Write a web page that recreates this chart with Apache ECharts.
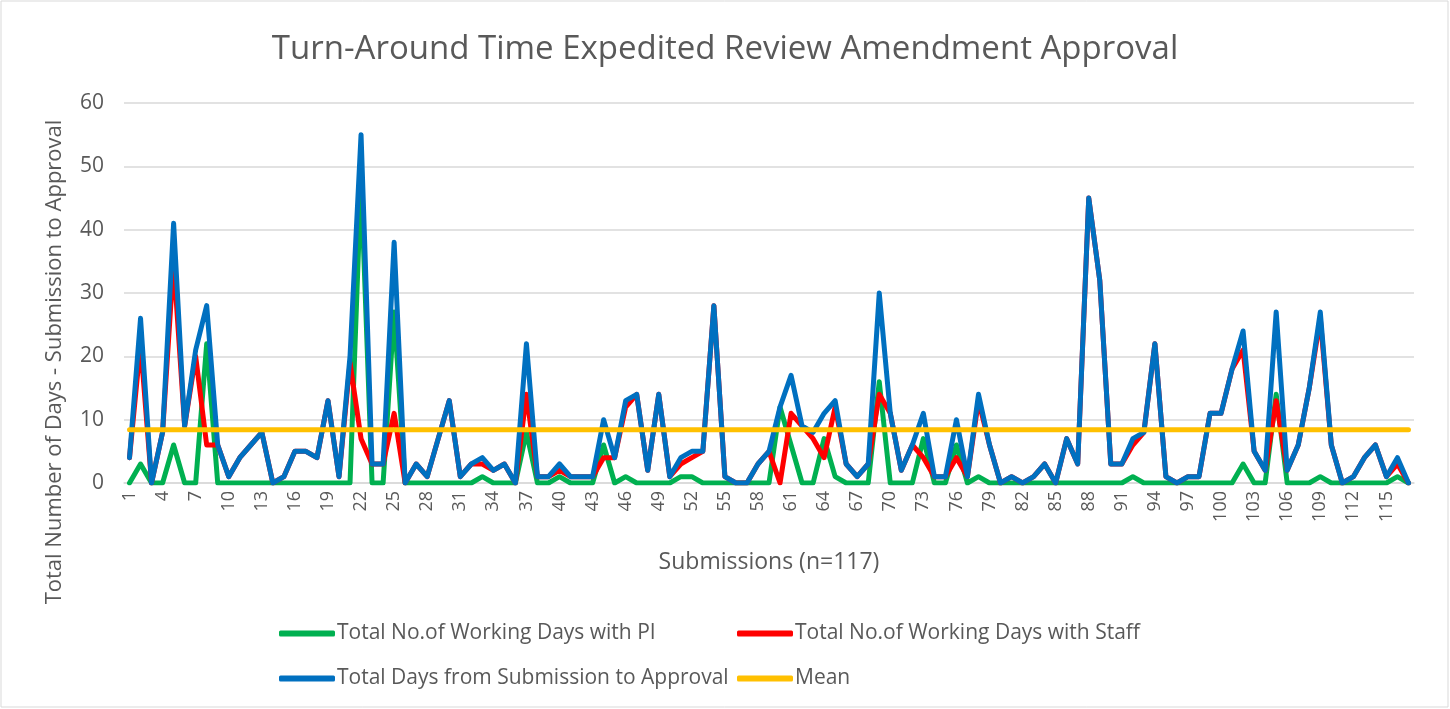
<!DOCTYPE html>
<html>
<head>
<meta charset="utf-8">
<title>Turn-Around Time</title>
<script src="https://cdn.jsdelivr.net/npm/echarts@6/dist/echarts.min.js"></script>
<style>
  html, body { margin: 0; padding: 0; background: #fff; }
  #main { width: 1450px; height: 709px; }
</style>
</head>
<body>
<div id="main"></div>
<script>
// data, submissions 1..117
var submissions = [];
for (var i = 1; i <= 117; i++) submissions.push(String(i));

var daysWithPI = [
  0, 3, 0, 0, 6, 0, 0, 22, 0, 0,
  0, 0, 0, 0, 0, 0, 0, 0, 0, 0,
  0, 48, 0, 0, 27, 0, 0, 0, 0, 0,
  0, 0, 1, 0, 0, 0, 8, 0, 0, 1,
  0, 0, 0, 6, 0, 1, 0, 0, 0, 0,
  1, 1, 0, 0, 0, 0, 0, 0, 0, 12,
  6, 0, 0, 7, 1, 0, 0, 0, 16, 0,
  0, 0, 7, 0, 0, 6, 0, 1, 0, 0,
  0, 0, 0, 0, 0, 0, 0, 0, 0, 0,
  0, 1, 0, 0, 0, 0, 0, 0, 0, 0,
  0, 3, 0, 0, 14, 0, 0, 0, 1, 0,
  0, 0, 0, 0, 0, 1, 0
];

var daysWithStaff = [
  4, 22, 0, 8, 35, 9, 20, 6, 6, 1,
  4, 6, 8, 0, 1, 5, 5, 4, 13, 1,
  19, 7, 3, 3, 11, 0, 3, 1, 7, 13,
  1, 3, 3, 2, 3, 0, 14, 1, 1, 2,
  1, 1, 1, 4, 4, 12, 14, 2, 14, 1,
  3, 4, 5, 28, 1, 0, 0, 3, 5, 0,
  11, 9, 7, 4, 12, 3, 1, 3, 14, 11,
  2, 6, 4, 1, 1, 4, 1, 13, 6, 0,
  1, 0, 1, 3, 0, 7, 3, 45, 32, 3,
  3, 6, 8, 22, 1, 0, 1, 1, 11, 11,
  18, 21, 5, 2, 13, 2, 6, 15, 26, 6,
  0, 1, 4, 6, 1, 3, 0
];

var totalDays = [
  4, 26, 0, 8, 41, 9, 21, 28, 6, 1,
  4, 6, 8, 0, 1, 5, 5, 4, 13, 1,
  20, 55, 3, 3, 38, 0, 3, 1, 7, 13,
  1, 3, 4, 2, 3, 0, 22, 1, 1, 3,
  1, 1, 1, 10, 4, 13, 14, 2, 14, 1,
  4, 5, 5, 28, 1, 0, 0, 3, 5, 12,
  17, 9, 8, 11, 13, 3, 1, 3, 30, 11,
  2, 6, 11, 1, 1, 10, 1, 14, 6, 0,
  1, 0, 1, 3, 0, 7, 3, 45, 32, 3,
  3, 7, 8, 22, 1, 0, 1, 1, 11, 11,
  18, 24, 5, 2, 27, 2, 6, 15, 27, 6,
  0, 1, 4, 6, 1, 4, 0
];

var meanValue = 8.4;
var meanLine = submissions.map(function() { return meanValue; });

var seriesNames = [
  'Total No.of Working Days with PI',
  'Total No.of Working Days with Staff',
  'Total Days from Submission to Approval',
  'Mean'
];
var seriesColors = ['#00B050', '#FF0000', '#0070C0', '#FFC000'];
var seriesData = [daysWithPI, daysWithStaff, totalDays, meanLine];

var textColor = '#595959';
var fontFamily = '"Open Sans", "Noto Sans", sans-serif';

var chart = echarts.init(document.getElementById('main'));

// one legend per item so the 2x2 layout lines up like the original
var legendPos = [
  { left: 274, top: 618 },
  { left: 732, top: 618 },
  { left: 274, top: 663 },
  { left: 732, top: 663 }
];
var legends = seriesNames.map(function(name, i) {
  return {
    left: legendPos[i].left,
    top: legendPos[i].top,
    data: [name],
    icon: 'roundRect',
    itemWidth: 56,
    itemHeight: 6,
    itemGap: 0,
    selectedMode: false,
    textStyle: { color: textColor, fontSize: 21, fontFamily: fontFamily, padding: [0, 0, 0, -3] }
  };
});

var series = seriesNames.map(function(name, i) {
  return {
    name: name,
    type: 'line',
    data: seriesData[i],
    symbol: 'none',
    color: seriesColors[i],
    lineStyle: { width: 5, color: seriesColors[i], cap: 'round', join: 'round' },
    emphasis: { disabled: true },
    animation: false
  };
});

var option = {
  backgroundColor: '#fff',
  textStyle: { fontFamily: fontFamily },
  title: {
    text: 'Turn-Around Time Expedited Review Amendment Approval',
    left: 'center',
    top: 28,
    textStyle: { color: textColor, fontSize: 33, fontWeight: 'normal', fontFamily: fontFamily }
  },
  legend: legends,
  grid: { left: 124, right: 36, top: 103, bottom: 226 },
  xAxis: {
    type: 'category',
    data: submissions,
    boundaryGap: true,
    name: 'Submissions (n=117)',
    nameLocation: 'middle',
    nameGap: 68,
    nameTextStyle: { color: textColor, fontSize: 23, fontFamily: fontFamily },
    axisLine: { lineStyle: { color: '#d9d9d9', width: 1.5 } },
    axisTick: { show: false },
    axisLabel: { interval: 2, rotate: 90, color: textColor, fontSize: 18, margin: 8, fontFamily: fontFamily }
  },
  yAxis: {
    type: 'value',
    min: 0,
    max: 60,
    interval: 10,
    axisLine: { show: false },
    axisTick: { show: false },
    splitLine: { lineStyle: { color: '#d9d9d9', width: 1.5 } },
    axisLabel: { color: textColor, fontSize: 21, margin: 20, fontFamily: fontFamily }
  },
  graphic: [
    {
      type: 'rect',
      shape: { x: 1, y: 1, width: 1447, height: 706 },
      style: { fill: 'none', stroke: '#d9d9d9', lineWidth: 1 },
      silent: true
    },
    {
      // y axis title, placed where the original has it
      type: 'text',
      x: 55,
      y: 362,
      rotation: Math.PI / 2,
      style: {
        text: 'Total Number of Days - Submission to Approval',
        fill: textColor,
        fontSize: 22,
        fontFamily: fontFamily,
        textAlign: 'center',
        textVerticalAlign: 'middle'
      }
    }
  ],
  series: series
};

chart.setOption(option);
</script>
</body>
</html>
